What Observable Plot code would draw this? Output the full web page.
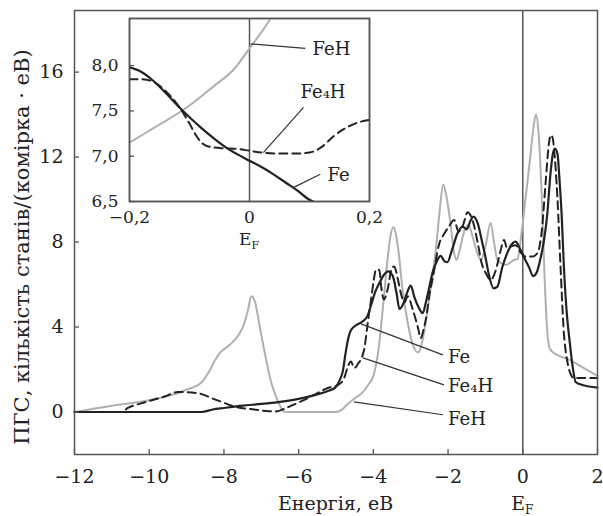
<!DOCTYPE html>
<html><head><meta charset="utf-8">
<script src="https://cdn.jsdelivr.net/npm/d3@7"></script>
<script src="https://cdn.jsdelivr.net/npm/@observablehq/plot@0.6"></script>
<style>
body{margin:0;background:#fff;}
#wrap{position:relative;width:603px;height:516px;}
#inset{position:absolute;left:79px;top:8px;}
</style></head><body><div id="wrap"><div id="main"></div><div id="inset"></div></div>
<script>
// ---- main chart data ----
const xTicks = [-12, -10, -8, -6, -4, -2, 0, 2];
const yTicks = [0, 4, 8, 12, 16];
const feData = [[-12,0],[-10,0],[-8.6,0],[-8.3,0.12],[-8.0,0.19],[-7.5,0.3],[-7.0,0.38],[-6.5,0.48],[-6.0,0.62],[-5.5,0.83],[-5.2,1.0],[-5.02,1.15],[-4.9,1.5],[-4.82,1.9],[-4.75,2.7],[-4.68,3.4],[-4.6,3.85],[-4.45,4.1],[-4.3,4.25],[-4.15,4.55],[-4.05,5.1],[-3.95,5.65],[-3.84,6.07],[-3.72,6.45],[-3.6,6.62],[-3.48,6.4],[-3.38,5.6],[-3.3,4.85],[-3.2,5.1],[-3.1,5.6],[-3.0,5.95],[-2.9,5.4],[-2.78,4.9],[-2.68,4.65],[-2.59,5.2],[-2.5,5.9],[-2.41,6.6],[-2.3,7.1],[-2.2,7.35],[-2.1,7.1],[-2.02,7.05],[-1.9,7.6],[-1.75,8.4],[-1.61,8.73],[-1.5,8.6],[-1.4,9.0],[-1.32,9.2],[-1.21,8.9],[-1.1,8.1],[-1.0,7.3],[-0.9,6.4],[-0.78,5.82],[-0.68,5.9],[-0.55,6.8],[-0.4,7.55],[-0.27,7.95],[-0.19,8.02],[-0.08,7.7],[0.03,7.3],[0.17,6.8],[0.28,6.4],[0.38,6.6],[0.47,7.2],[0.57,8.1],[0.66,9.4],[0.74,11.2],[0.8,12.1],[0.86,12.4],[0.93,12.15],[0.98,11.0],[1.04,9.3],[1.1,6.85],[1.18,4.6],[1.25,3.4],[1.33,2.2],[1.42,1.4],[1.6,1.27],[2.0,1.15]];
const fe4hData = [[-12,0],[-10.75,0],[-10.57,0.19],[-10.13,0.45],[-9.59,0.73],[-9.23,0.94],[-8.97,0.93],[-8.61,0.85],[-8.34,0.66],[-8.07,0.48],[-7.72,0.26],[-7.19,0.12],[-6.8,0.04],[-6.6,0.03],[-6.35,0.18],[-5.94,0.5],[-5.58,0.81],[-5.22,1.13],[-4.96,1.25],[-4.78,1.6],[-4.69,2.1],[-4.6,2.38],[-4.51,2.07],[-4.4,2.3],[-4.3,2.6],[-4.24,3.0],[-4.15,4.2],[-4.06,5.3],[-3.99,6.2],[-3.93,6.7],[-3.84,6.69],[-3.79,5.9],[-3.72,5.3],[-3.62,5.75],[-3.5,6.8],[-3.44,6.85],[-3.35,6.3],[-3.25,5.5],[-3.17,5.15],[-3.08,5.45],[-2.95,4.85],[-2.81,4.0],[-2.73,3.48],[-2.64,4.0],[-2.59,4.4],[-2.5,5.5],[-2.41,6.3],[-2.24,7.9],[-2.1,8.4],[-1.97,8.75],[-1.84,9.04],[-1.72,8.5],[-1.6,8.8],[-1.48,9.4],[-1.34,9.0],[-1.21,8.0],[-1.1,7.0],[-0.99,6.54],[-0.86,6.22],[-0.72,6.69],[-0.59,7.63],[-0.5,8.1],[-0.42,7.7],[-0.32,7.79],[-0.2,7.85],[-0.05,7.5],[0.08,7.32],[0.26,7.32],[0.39,7.48],[0.46,7.9],[0.52,8.73],[0.61,10.77],[0.7,12.65],[0.75,13.04],[0.8,12.9],[0.84,12.33],[0.93,9.98],[1.01,6.85],[1.1,3.71],[1.18,2.5],[1.24,2.0],[1.37,1.6],[2.0,1.6]];
const fehData = [[-12,0],[-11,0.3],[-10,0.55],[-9.5,0.75],[-9.0,1.05],[-8.6,1.4],[-8.4,1.9],[-8.25,2.4],[-8.1,2.8],[-7.85,3.15],[-7.6,3.65],[-7.45,4.2],[-7.35,4.85],[-7.27,5.45],[-7.17,5.2],[-7.05,4.1],[-6.92,2.9],[-6.75,1.5],[-6.6,0.7],[-6.5,0.3],[-6.4,0.02],[-6.3,0],[-5.0,0],[-4.85,0.1],[-4.7,0.35],[-4.5,0.65],[-4.3,0.9],[-4.15,1.25],[-4.0,1.7],[-3.93,2.2],[-3.85,3.1],[-3.78,4.3],[-3.7,5.7],[-3.62,7.2],[-3.55,8.2],[-3.47,8.7],[-3.4,8.4],[-3.33,7.6],[-3.22,5.8],[-3.1,4.4],[-2.95,3.2],[-2.8,2.8],[-2.68,3.4],[-2.59,4.34],[-2.46,5.9],[-2.33,7.63],[-2.24,9.2],[-2.13,10.7],[-2.05,10.2],[-1.93,8.8],[-1.84,7.5],[-1.77,7.16],[-1.68,7.7],[-1.55,8.6],[-1.45,8.8],[-1.35,8.3],[-1.2,7.4],[-1.12,7.16],[-1.0,7.8],[-0.86,8.9],[-0.77,8.0],[-0.68,7.16],[-0.45,6.93],[-0.23,7.16],[-0.14,7.2],[-0.05,8.2],[0.08,10.14],[0.2,12.0],[0.28,13.3],[0.35,14.0],[0.42,13.2],[0.5,10.5],[0.58,6.5],[0.65,3.9],[0.72,3.0],[0.85,2.75],[1.2,2.5],[1.6,2.1],[2.0,1.7]];

// ---- inset data ----
const insetXTicks = [-0.2, 0, 0.2];
const insetYTicks = [6.5, 7.0, 7.5, 8.0];
const insetFe = [[-0.2,7.98],[-0.18,7.93],[-0.16,7.83],[-0.14,7.7],[-0.12,7.56],[-0.1,7.43],[-0.08,7.31],[-0.06,7.2],[-0.04,7.1],[-0.02,7.02],[0,6.95],[0.02,6.88],[0.04,6.8],[0.06,6.71],[0.08,6.62],[0.1,6.52],[0.106,6.5]];
const insetFe4h = [[-0.2,7.85],[-0.18,7.85],[-0.16,7.82],[-0.14,7.72],[-0.12,7.57],[-0.1,7.36],[-0.09,7.24],[-0.08,7.15],[-0.07,7.11],[-0.05,7.09],[-0.02,7.08],[0,7.06],[0.02,7.04],[0.05,7.03],[0.08,7.03],[0.1,7.04],[0.12,7.1],[0.14,7.22],[0.16,7.31],[0.18,7.37],[0.2,7.4]];
const insetFeh = [[-0.2,7.15],[-0.17,7.27],[-0.137,7.4],[-0.104,7.54],[-0.06,7.77],[-0.026,7.96],[0,8.19],[0.035,8.52],[0.05,8.7]];

// ---- annotations (leader start, leader end, label position) ----
const mainLabels = [
  {name: "Fe",   x1: -4.33, y1: 4.15, x2: -2.14, y2: 2.69,  tx: -2.0, ty: 2.6},
  {name: "Fe₄H", x1: -4.28, y1: 2.55, x2: -2.11, y2: 1.28,  tx: -2.0, ty: 1.19},
  {name: "FeH",  x1: -4.52, y1: 0.48, x2: -2.14, y2: -0.13, tx: -2.0, ty: -0.36}
];
const insetLabels = [
  {name: "FeH",  x1: 0.002, y1: 8.24, x2: 0.093, y2: 8.19, tx: 0.105, ty: 8.18},
  {name: "Fe₄H", x1: 0.023, y1: 7.04, x2: 0.09,  y2: 7.54, tx: 0.085, ty: 7.71},
  {name: "Fe",   x1: 0.072, y1: 6.65, x2: 0.118, y2: 6.8,  tx: 0.13,  ty: 6.79}
];
const xLabel = "Енергія, еВ";
const yLabel = "ПГС, кількість станів/(комірка · еВ)";

const toObj = a => a.map(([x, y]) => ({x, y}));
const FONT = "DejaVu Serif";
const DARK = "#222";
const FRAME = "#555";

const main = Plot.plot({
  width: 603, height: 516,
  marginLeft: 74, marginRight: 6, marginTop: 10, marginBottom: 62,
  x: {domain: [-12, 2]},
  y: {domain: [-2, 18.9]},
  style: {fontFamily: FONT, fontSize: "19px", color: DARK, background: "white"},
  marks: [
    Plot.ruleX([0], {stroke: FRAME, strokeWidth: 1.5}),
    Plot.line(toObj(fehData), {x: "x", y: "y", stroke: "#b0b0b0", strokeWidth: 2, curve: "monotone-x"}),
    Plot.line(toObj(fe4hData), {x: "x", y: "y", stroke: DARK, strokeWidth: 2, strokeDasharray: "8,5", curve: "monotone-x"}),
    Plot.line(toObj(feData), {x: "x", y: "y", stroke: DARK, strokeWidth: 2.2, curve: "monotone-x"}),
    Plot.link(mainLabels, {x1: "x1", y1: "y1", x2: "x2", y2: "y2", stroke: "#333", strokeWidth: 1.2}),
    Plot.text(mainLabels, {x: "tx", y: "ty", text: "name", textAnchor: "start", fontSize: 18, fill: DARK}),
    Plot.axisX(xTicks, {tickSize: 0, tickPadding: 15, label: null}),
    Plot.axisY(yTicks, {tickSize: 0, tickPadding: 11, label: null}),
    Plot.tickX(xTicks, {x: d => d, insetTop: 439, stroke: FRAME, strokeWidth: 1.3}),
    Plot.tickY(yTicks, {y: d => d, insetRight: 518, stroke: FRAME, strokeWidth: 1.3}),
    Plot.frame({stroke: FRAME, strokeWidth: 1.5})
  ]
});
document.getElementById("main").appendChild(main);

// axis titles
const sx = main.scale("x");
const svgM = d3.select(main);
svgM.append("text")
  .attr("transform", "translate(22,247) rotate(-90)")
  .attr("text-anchor", "middle").attr("dominant-baseline", "central")
  .attr("font-family", FONT).attr("font-size", 21).attr("fill", DARK)
  .text(yLabel);
svgM.append("text")
  .attr("x", sx.apply(-5)).attr("y", 510)
  .attr("text-anchor", "middle")
  .attr("font-family", FONT).attr("font-size", 19).attr("fill", DARK)
  .text(xLabel);
const ef = svgM.append("text")
  .attr("x", sx.apply(0)).attr("y", 510)
  .attr("text-anchor", "middle")
  .attr("font-family", FONT).attr("font-size", 19).attr("fill", DARK);
ef.append("tspan").text("E");
ef.append("tspan").attr("font-size", 12).attr("dy", 4).text("F");

// ---- inset ----
const commaFmt = d => d === 0 ? "0" : d.toFixed(1).replace(".", ",").replace("-", "−");
const inset = Plot.plot({
  width: 310, height: 245,
  marginLeft: 50, marginRight: 20, marginTop: 10, marginBottom: 52,
  x: {domain: [-0.2, 0.2]},
  y: {domain: [6.5, 8.52]},
  style: {fontFamily: FONT, fontSize: "17px", color: DARK, background: "transparent"},
  marks: [
    Plot.frame({fill: "white", stroke: FRAME, strokeWidth: 1.5}),
    Plot.ruleX([0], {stroke: FRAME, strokeWidth: 1.5}),
    Plot.line(toObj(insetFeh), {x: "x", y: "y", stroke: "#b0b0b0", strokeWidth: 2, curve: "monotone-x", clip: true}),
    Plot.line(toObj(insetFe4h), {x: "x", y: "y", stroke: DARK, strokeWidth: 2, strokeDasharray: "8,5", curve: "monotone-x", clip: true}),
    Plot.line(toObj(insetFe), {x: "x", y: "y", stroke: DARK, strokeWidth: 2.2, curve: "monotone-x", clip: true}),
    Plot.link(insetLabels, {x1: "x1", y1: "y1", x2: "x2", y2: "y2", stroke: "#333", strokeWidth: 1.2}),
    Plot.text(insetLabels, {x: "tx", y: "ty", text: "name", textAnchor: "start", fontSize: 18, fill: DARK}),
    Plot.axisX(insetXTicks, {tickSize: 0, tickPadding: 9, tickFormat: commaFmt, label: null}),
    Plot.axisY(insetYTicks, {tickSize: 0, tickPadding: 11, tickFormat: commaFmt, label: null}),
    Plot.tickY(insetYTicks, {y: d => d, insetRight: 235, stroke: FRAME, strokeWidth: 1.3}),
    Plot.frame({stroke: FRAME, strokeWidth: 1.5})
  ]
});
document.getElementById("inset").appendChild(inset);
const sxi = inset.scale("x");
const efi = d3.select(inset).append("text")
  .attr("x", sxi.apply(0)).attr("y", 237)
  .attr("text-anchor", "middle")
  .attr("font-family", FONT).attr("font-size", 17).attr("fill", DARK);
efi.append("tspan").text("E");
efi.append("tspan").attr("font-size", 11).attr("dy", 4).text("F");
</script></body></html>
